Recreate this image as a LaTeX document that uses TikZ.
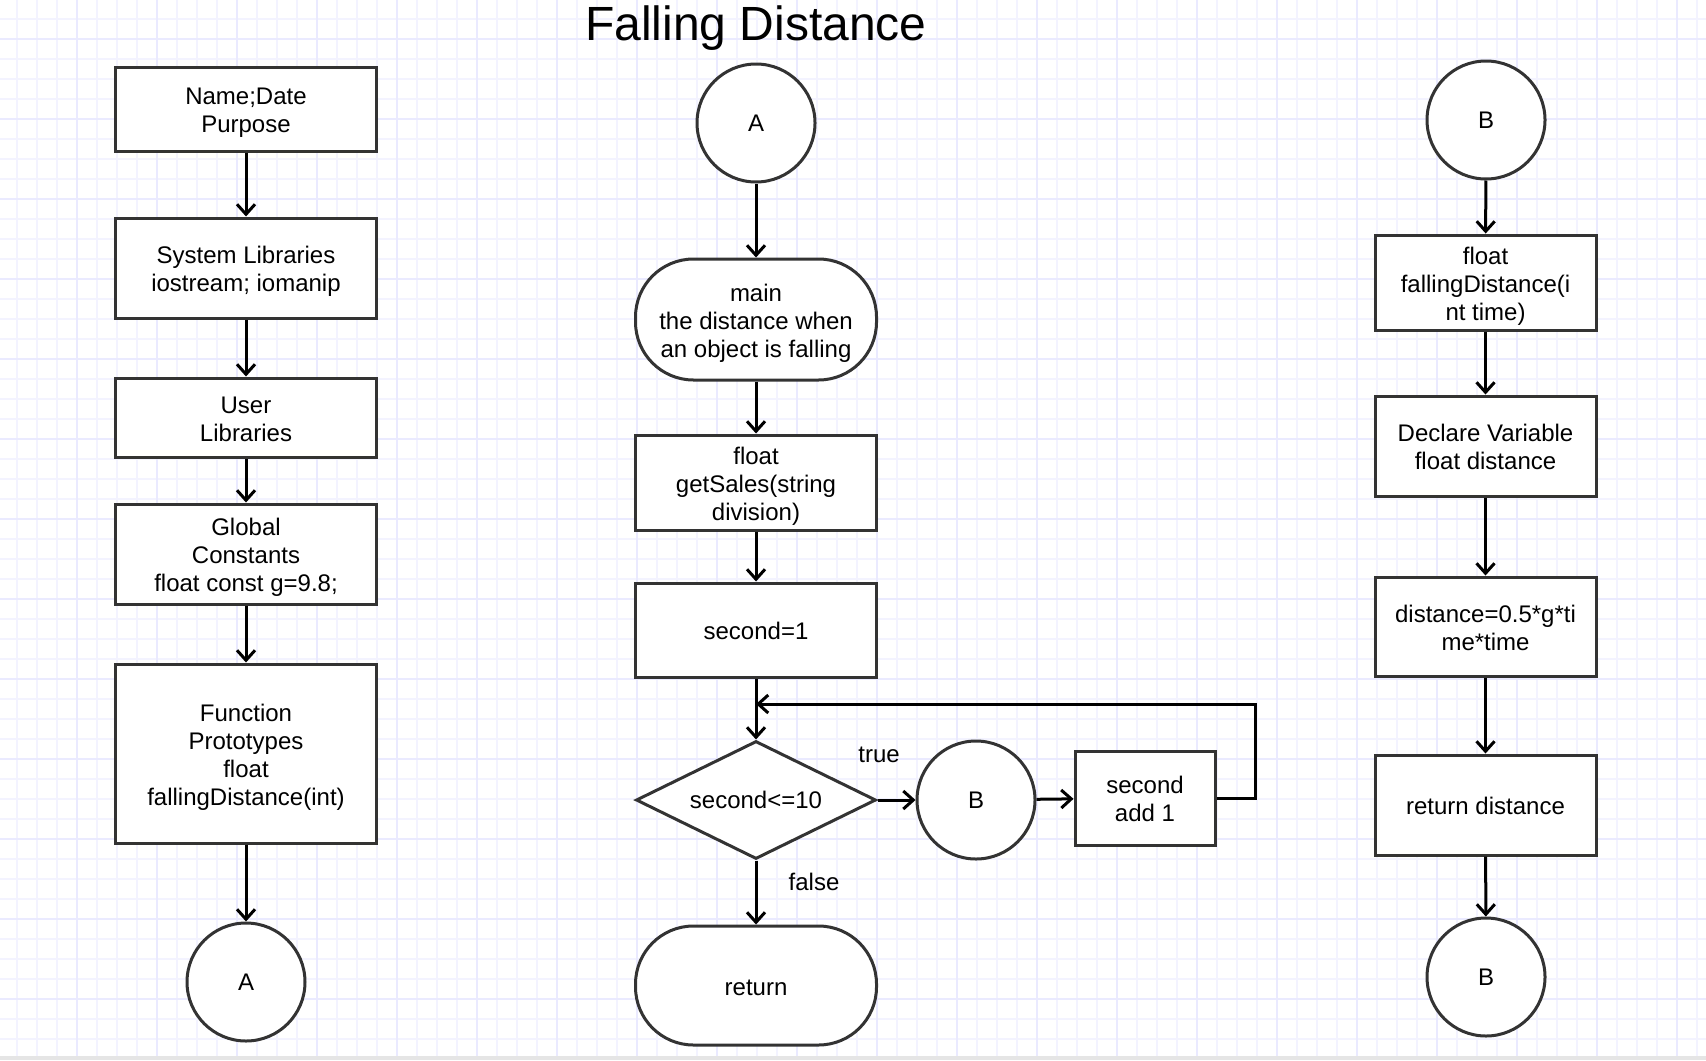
\documentclass[tikz,border=0pt]{standalone}
\usepackage{fontspec}
\setmainfont{Liberation Sans}
\usetikzlibrary{arrows.meta,shapes.geometric}
\definecolor{gridminor}{RGB}{243,243,255}
\definecolor{gridmajor}{RGB}{234,234,255}
\definecolor{edge}{RGB}{51,51,51}
\newcommand{\boxtop}{\rule{0pt}{12pt}}
\begin{document}
\begin{tikzpicture}[x=0.5pt,y=-0.5pt,
    font=\fontsize{12}{14}\selectfont,
    box/.style={draw=edge,line width=1.5pt,fill=white,align=center,inner sep=2pt,
        execute at end node={\rule[-2.5pt]{0pt}{2.5pt}}},
    term/.style={box,rounded corners=29pt},
    conn/.style={draw=edge,line width=1.5pt,fill=white,circle,minimum size=59pt,inner sep=0pt},
    decide/.style={draw=edge,line width=1.5pt,fill=white,diamond,inner sep=0pt,aspect=2},
    arr/.style={line width=1.5pt,-{Straight Barb[length=5pt,width=9pt]}}]
    \useasboundingbox (0,0) rectangle (1706,1060);
    \fill[white] (0,0) rectangle (1706,1060);
    \foreach \x in {17,37,...,1706} \draw[gridminor,line width=1pt] (\x,0) -- (\x,1060);
    \foreach \y in {19,39,...,1060} \draw[gridminor,line width=1pt] (0,\y) -- (1706,\y);
    \foreach \x in {77,157,...,1706} \draw[gridmajor,line width=1pt] (\x,0) -- (\x,1060);
    \foreach \y in {39,119,...,1060} \draw[gridmajor,line width=1pt] (0,\y) -- (1706,\y);
    \fill[black!10] (0,1056) rectangle (1706,1060);

    \node[font=\fontsize{24}{28}\selectfont] (title) at (756,28) {Falling Distance};

    \node[box,minimum width=130.5pt,minimum height=42pt] (head) at (246,109) {\boxtop Name;Date\\Purpose};
    \node[box,minimum width=130.5pt,minimum height=50pt] (syslib) at (246,268) {\boxtop System Libraries\\iostream; iomanip};
    \node[box,minimum width=130.5pt,minimum height=39.5pt] (userlib) at (246,417.5) {\boxtop User\\Libraries};
    \node[box,minimum width=130.5pt,minimum height=50pt] (global) at (246,554) {\boxtop Global\\Constants\\float const g=9.8;};
    \node[box,minimum width=130.5pt,minimum height=89.5pt] (proto) at (246,753.5) {\boxtop Function\\Prototypes\\float\\fallingDistance(int)};
    \node[conn] (outA) at (246,982) {A};

    \draw[arr] (head) -- (syslib);
    \draw[arr] (syslib) -- (userlib);
    \draw[arr] (userlib) -- (global);
    \draw[arr] (global) -- (proto);
    \draw[arr] (proto) -- (outA);

    \node[conn] (inA) at (756,123) {A};
    \node[term,minimum width=120.5pt,minimum height=60.5pt] (main) at (756,319.5) {\boxtop main\\the distance when\\an object is falling};
    \node[box,minimum width=120.5pt,minimum height=47.5pt] (getsales) at (756,482.5) {\boxtop float\\getSales(string\\division)};
    \node[box,minimum width=120.5pt,minimum height=47pt] (init) at (756,630) {\boxtop second=1};
    \node[decide,minimum width=120pt,minimum height=59pt] (test) at (756,800) {second<=10};
    \node[term,minimum width=120.5pt,minimum height=59.5pt] (ret) at (756,985.5) {\boxtop return};
    \node[conn] (callB) at (976,800) {B};
    \node[box,minimum width=70pt,minimum height=47pt] (inc) at (1145,798) {\boxtop second\\add 1};
    \node (lbltrue) at (879,755) {true};
    \node (lblfalse) at (814,882) {false};
    \coordinate (merge) at (756,704);

    \draw[arr] (inA) -- (main);
    \draw[arr] (main) -- (getsales);
    \draw[arr] (getsales) -- (init);
    \draw[arr] (init) -- (test);
    \draw[arr] (test) -- (ret);
    \draw[arr] (test) -- (callB);
    \draw[arr] (callB) -- (inc);
    \draw[arr] (inc.east) -- ++(39,0) |- (merge);

    \node[conn] (inB) at (1486,120) {B};
    \node[box,minimum width=110.5pt,minimum height=47.5pt] (fdist) at (1485.5,282.5) {\boxtop float\\fallingDistance(i\\nt time)};
    \node[box,minimum width=110.5pt,minimum height=50pt] (decl) at (1485.5,446) {\boxtop Declare Variable\\float distance};
    \node[box,minimum width=110.5pt,minimum height=49.5pt] (calc) at (1485.5,626.5) {\boxtop distance=0.5*g*ti\\me*time};
    \node[box,minimum width=110.5pt,minimum height=50pt] (retd) at (1485.5,805) {\boxtop return distance};
    \node[conn] (outB) at (1486,977) {B};

    \draw[arr] (inB) -- (fdist);
    \draw[arr] (fdist) -- (decl);
    \draw[arr] (decl) -- (calc);
    \draw[arr] (calc) -- (retd);
    \draw[arr] (retd) -- (outB);
\end{tikzpicture}
\end{document}
